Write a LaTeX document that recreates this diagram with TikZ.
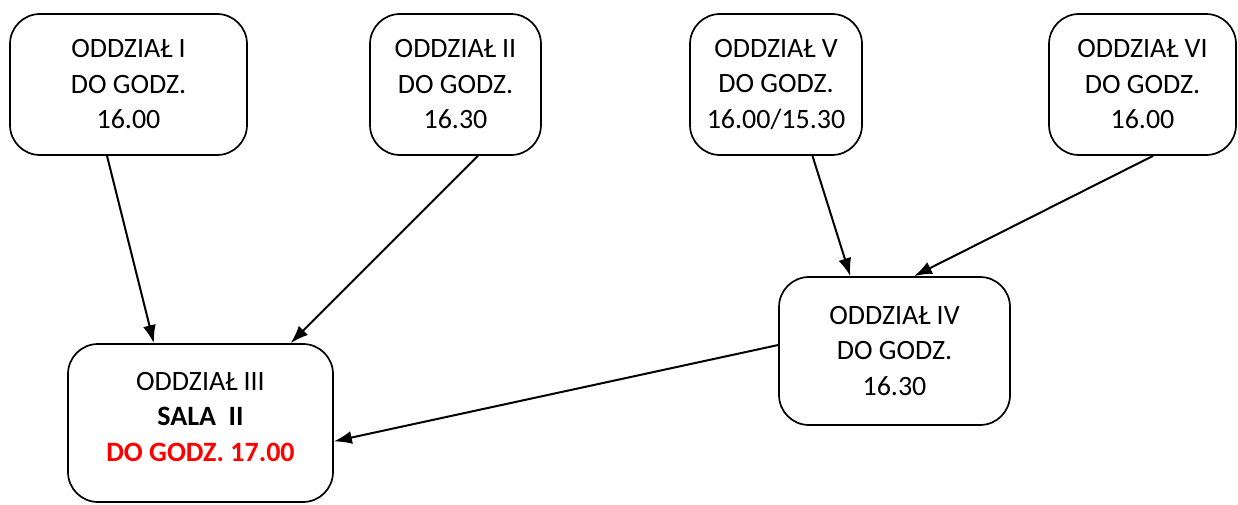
\documentclass[tikz,border=0pt]{standalone}
\usepackage{fontspec}
\setmainfont{Carlito}
\usetikzlibrary{arrows.meta,calc}
\definecolor{deadline}{RGB}{255,0,0}
\tikzset{
  box/.style={draw=black, line width=1.7pt, rounded corners=30pt, align=center,
    inner sep=0pt, font=\fontsize{28pt}{35.5pt}\selectfont},
  conn/.style={line width=2pt, -{Latex[length=18pt,width=13pt]}}
}
\begin{document}
\begin{tikzpicture}[x=1pt,y=-1pt]
\useasboundingbox (0,0) rectangle (1238,504);
\node[box, minimum width=237pt, minimum height=141pt] (o1) at (128.5,84.5) {ODDZIAŁ I\\DO GODZ.\\16.00};
\node[box, minimum width=171pt, minimum height=141pt] (o2) at (455.5,84.5) {ODDZIAŁ II\\DO GODZ.\\16.30};
\node[box, minimum width=172pt, minimum height=141pt] (o5) at (776,84.5) {ODDZIAŁ V\\DO GODZ.\\16.00/15.30};
\node[box, minimum width=187pt, minimum height=141pt] (o6) at (1142.5,84.5) {ODDZIAŁ VI\\DO GODZ.\\16.00};
\node[box, minimum width=231pt, minimum height=148pt] (o4) at (894.5,351) {ODDZIAŁ IV\\DO GODZ.\\16.30};
\node[box, minimum width=265pt, minimum height=158pt, text depth=13pt] (o3) at (200.5,423) {ODDZIAŁ III\\\textbf{SALA\ \ II}\\\textcolor{deadline}{\textbf{DO GODZ. 17.00}}};
\draw[conn] ($(o1.south west)!0.41!(o1.south east)$) -- ($(o3.north west)!0.325!(o3.north east)$);
\draw[conn] ($(o2.south west)!0.63!(o2.south east)$) -- ($(o3.north west)!0.838!(o3.north east)$);
\draw[conn] ($(o5.south west)!0.71!(o5.south east)$) -- ($(o4.north west)!0.31!(o4.north east)$);
\draw[conn] ($(o6.south west)!0.556!(o6.south east)$) -- ($(o4.north west)!0.584!(o4.north east)$);
\draw[conn] ($(o4.north west)!0.46!(o4.south west)$) -- ($(o3.north east)!0.615!(o3.south east)$);
\end{tikzpicture}
\end{document}
